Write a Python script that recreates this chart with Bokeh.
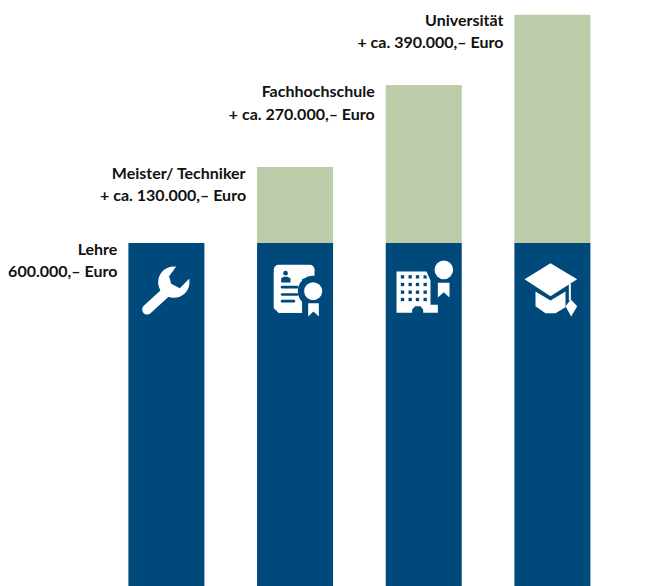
from bokeh.plotting import figure
from bokeh.embed import file_html
from bokeh.resources import INLINE
from bokeh.models import Range1d
from bokeh.core.properties import value

# Data (thousand Euro)
positions = [0, 1, 2, 3]
base_values = [600, 600, 600, 600]
extra_values = [0, 130, 270, 390]
line1 = ["Lehre", "Meister/ Techniker", "Fachhochschule", "Universität"]
line2 = ["600.000,– Euro", "+ ca. 130.000,– Euro", "+ ca. 270.000,– Euro", "+ ca. 390.000,– Euro"]
line1_off = [5.5, 5.5, 5.5, 5]
line2_off = [27.5, 28, 28, 27]

BLUE = "#00497b"
GREEN = "#bdcca8"
W, H = 646, 586
PX_X = 128.67
PX_Y = 0.585
BAR_W = 76 / PX_X
x0 = -165.9 / PX_X
y_top = 600 + 242.5 / PX_Y
y_bot = y_top - H / PX_Y

p = figure(width=W, height=H, output_backend="svg", toolbar_location=None,
           x_range=Range1d(x0, x0 + W / PX_X), y_range=Range1d(y_bot, y_top),
           min_border=0, outline_line_color=None)
p.axis.visible = False
p.xgrid.visible = False
p.ygrid.visible = False
p.background_fill_color = "white"

p.vbar(x=positions, width=BAR_W, bottom=y_bot - 50, top=base_values, fill_color=BLUE, line_color=None)
p.vbar(x=positions, width=BAR_W, bottom=base_values,
       top=[b + e for b, e in zip(base_values, extra_values)], fill_color=GREEN, line_color=None)

tx = [i - BAR_W / 2 for i in positions]
ty = [b + e for b, e in zip(base_values, extra_values)]
FONT = value("Lato")
for lines, offs in ((line1, line1_off), (line2, line2_off)):
    p.text(x=tx, y=ty, text=lines, x_offset=-11, y_offset=offs, text_align="right",
           text_baseline="middle", text_font=FONT, text_font_size="16px",
           text_font_style="bold", text_color="#111111")


# Decorative icons, drawn in zoom-crop coordinates (3x) relative to a crop origin
def fx(v): return x0 + v / PX_X
def fy(v): return y_top - v / PX_Y


class Icon:
    def __init__(self, ox, oy):
        self.ox, self.oy = ox, oy
    def X(self, a): return fx(self.ox + a / 3)
    def Y(self, b): return fy(self.oy + b / 3)
    def poly(self, pts, c="white"):
        p.patch([self.X(a) for a, _ in pts], [self.Y(b) for _, b in pts], fill_color=c, line_color=None)
    def line(self, pts, w, c="white", cap="round"):
        p.line([self.X(a) for a, _ in pts], [self.Y(b) for _, b in pts], line_width=w / 3,
               line_color=c, line_cap=cap, line_join="round")
    def circ(self, a, b, r, c="white"):
        p.scatter([self.X(a)], [self.Y(b)], size=2 * r / 3, marker="circle", fill_color=c, line_color=None)


# Wrench
i = Icon(120, 235)
i.circ(160, 140, 47)
i.poly([(172, 86), (146, 122), (152, 145), (178, 158), (206, 130), (216, 86)], BLUE)
i.line([(80, 222), (142, 165)], 30)

# Certificate
i.line([(474, 102), (568, 102)], 28)
i.poly([(460, 102), (582, 102), (582, 130), (545, 130), (545, 232), (460, 218)])
i.poly([(460, 110), (545, 110), (545, 232), (474, 232), (460, 218)])
i.poly([(474, 232), (545, 232), (545, 200), (474, 200)])
i.circ(578, 167, 46, BLUE)
i.poly([(545, 167), (610, 167), (610, 250), (545, 250)], BLUE)
i.circ(578, 167, 27)
i.poly([(563, 203), (595, 203), (595, 243), (579, 228), (563, 243)])
i.circ(495, 113, 7, BLUE)
i.poly([(482, 141), (482, 128), (490, 124), (500, 124), (510, 128), (510, 141)], BLUE)
for yy, xe in ((155, 530), (177, 530), (197, 520)):
    i.line([(485, yy), (xe, yy)], 8, BLUE)

# Building
b = Icon(380, 235)
b.poly([(48, 108), (138, 108), (150, 135), (150, 208), (172, 208), (172, 232), (128, 232), (128, 222),
        (120, 212), (104, 212), (95, 222), (95, 232), (48, 232)])
for yy in (124, 147, 170, 192):
    for xx in (66, 89, 111, 134):
        if yy == 124 and xx == 134:
            b.poly([(129, 119), (137, 119), (140, 129), (129, 129)], BLUE)
        else:
            b.poly([(xx - 5, yy - 5), (xx + 5, yy - 5), (xx + 5, yy + 5), (xx - 5, yy + 5)], BLUE)
b.circ(190, 103, 28)
b.poly([(172, 142), (207, 142), (207, 186), (190, 170), (172, 186)])

# Graduation cap
b.poly([(510, 83), (590, 131), (510, 182), (432, 131)])
b.poly([(465, 168), (510, 195), (555, 168), (555, 215), (525, 233), (495, 233), (465, 212)])
b.line([(568, 145), (568, 195)], 6, cap="butt")
b.poly([(571, 192), (590, 212), (572, 243), (555, 212)])

open("out.html", "w").write(file_html(p, INLINE))
